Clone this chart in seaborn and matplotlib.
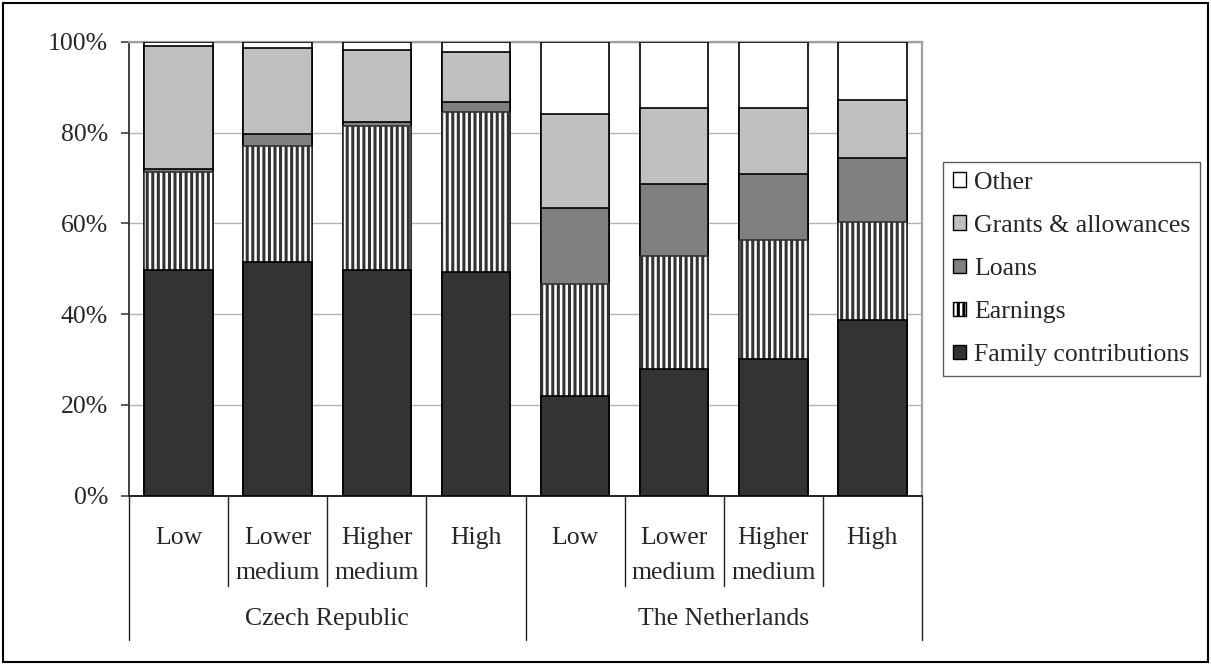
import numpy as np
import pandas as pd
import matplotlib
matplotlib.use("Agg")
import matplotlib.pyplot as plt
from matplotlib.patches import Patch, Rectangle
from matplotlib.lines import Line2D
import seaborn as sns

# Funding sources of students by socio-economic background (%)
countries = ["Czech Republic", "The Netherlands"]
groups = ["Low", "Lower\nmedium", "Higher\nmedium", "High"]

family = [49.7, 51.4, 49.7, 49.2, 21.9, 28.0, 30.2, 38.6]
earnings = [21.7, 25.6, 31.8, 35.3, 24.7, 24.8, 26.1, 21.7]
loans = [0.5, 2.7, 0.8, 2.3, 16.8, 15.9, 14.6, 14.1]
grants = [27.3, 18.9, 15.9, 11.0, 20.7, 16.7, 14.5, 12.8]
other = [0.8, 1.4, 1.8, 2.2, 15.9, 14.6, 14.6, 12.8]

series_names = ["Family contributions", "Earnings", "Loans",
                "Grants & allowances", "Other"]
series_values = [family, earnings, loans, grants, other]
series_colors = ["#333333", "#ffffff", "#808080", "#c0c0c0", "#ffffff"]
series_hatch = [None, "|||", None, None, None]

keys = [f"{c}|{g}" for c in countries for g in groups]
stack = np.cumsum(np.array(series_values), axis=0)
df = pd.DataFrame({"key": keys})
for name, col in zip(series_names, stack):
    df[name] = col

sns.set_style("white")
plt.rcParams["font.family"] = ["Liberation Serif", "DejaVu Serif"]
plt.rcParams["hatch.linewidth"] = 2.2

FS = 18.5

fig = plt.figure(figsize=(12.11, 6.65), dpi=100)
W, H = 1211, 665
ax = fig.add_axes([129 / W, 1 - 495.5 / H, (922 - 129) / W, (495.5 - 42) / H])

# Draw cumulative totals from the top layer down so each segment shows
for i in range(len(series_names) - 1, -1, -1):
    name = series_names[i]
    hatch = series_hatch[i]
    sns.barplot(data=df, x="key", y=name, order=keys, color=series_colors[i],
                width=0.69, errorbar=None, ax=ax, saturation=1,
                edgecolor="#333333" if hatch else "black",
                linewidth=1.2, hatch=hatch, zorder=3)

ax.set_ylim(0, 100)
ax.set_xlim(-0.5, len(keys) - 0.5)
ax.set_yticks(np.arange(0, 101, 20))
ax.set_yticklabels([f"{v}%" for v in range(0, 101, 20)], fontsize=FS)
ax.yaxis.grid(True, color="#b4b4b4", linewidth=1.0, zorder=0)
ax.set_axisbelow(True)
ax.tick_params(axis="y", direction="out", length=6, width=1.2,
               color="#404040", pad=9, left=True)
ax.set_xticks([])
ax.set_xlabel("")
ax.set_ylabel("")
for side in ["top", "right"]:
    ax.spines[side].set_color("#a0a0a0")
    ax.spines[side].set_linewidth(1.6)
ax.spines["left"].set_color("#404040")
ax.spines["left"].set_linewidth(1.4)
ax.spines["bottom"].set_color("#202020")
ax.spines["bottom"].set_linewidth(1.4)

# Two-level category axis below the bars
trans = ax.get_xaxis_transform()
px = 495.5 - 42
def yfrac(row):
    return (495.5 - row) / px

for k, key in enumerate(keys):
    label = key.split("|")[1]
    lines = label.split("\n")
    for j, line in enumerate(lines):
        ax.text(k, yfrac(538 + 35 * j), line, transform=trans,
                ha="center", va="center", fontsize=FS, clip_on=False)

for c, country in enumerate(countries):
    ax.text(c * 4 + 1.5, yfrac(619), country, transform=trans,
            ha="center", va="center", fontsize=FS, clip_on=False)

for b in range(len(keys) + 1):
    xb = b - 0.5
    bottom_row = 640 if b % 4 == 0 else 586
    ax.add_line(Line2D([xb, xb], [0, yfrac(bottom_row)], transform=trans,
                       color="#202020", linewidth=1.0, clip_on=False))

# Legend, top entry first
handles = []
for i in range(len(series_names) - 1, -1, -1):
    handles.append(Patch(facecolor=series_colors[i], edgecolor="black",
                         linewidth=1.0, hatch=series_hatch[i],
                         label=series_names[i]))
leg = fig.legend(handles=handles, loc="center left",
                 bbox_to_anchor=(943 / W, 1 - 269 / H),
                 fontsize=FS, frameon=True, fancybox=False, shadow=False,
                 handlelength=0.5, handleheight=0.5, handletextpad=0.3,
                 labelspacing=0.82, borderpad=0.4, borderaxespad=0)
leg.get_frame().set_edgecolor("#333333")
leg.get_frame().set_linewidth(1.0)

# Outer chart border
fig.patches.append(Rectangle((3 / W, 3 / H), (1208 - 3) / W, (662 - 3) / H,
                             transform=fig.transFigure, fill=False,
                             edgecolor="black", linewidth=1.5))

fig.savefig("out.png", dpi=100)
